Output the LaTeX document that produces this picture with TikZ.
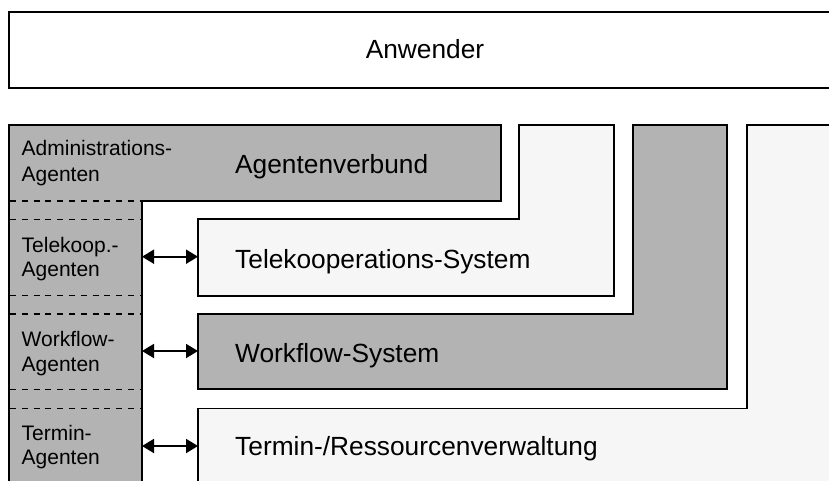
\documentclass[tikz,border=0pt]{standalone}
\usepackage{fontspec}
\setmainfont{Liberation Sans}
\usetikzlibrary{arrows.meta}
\definecolor{agentgray}{RGB}{179,179,179}
\definecolor{layerlight}{RGB}{246,246,246}
\tikzset{
  layer/.style={draw=black, line width=1.7pt, line join=miter},
  darklayer/.style={layer, fill=agentgray},
  lightlayer/.style={layer, fill=layerlight},
  sep/.style={draw=black, line width=1.5pt, dash pattern=on 6pt off 5.8pt},
  biglabel/.style={anchor=base west, inner sep=0pt, font=\fontsize{26.3}{31}\selectfont},
  smalllabel/.style={anchor=base west, inner sep=0pt, align=left, font=\fontsize{21}{25}\selectfont},
  link/.style={line width=1.9pt, {Triangle[length=12pt,width=14pt]}-{Triangle[length=12pt,width=14pt]}}
}
\begin{document}
\begin{tikzpicture}[x=1pt,y=-1pt]
\path[use as bounding box, clip] (0,0) rectangle (829,480);
\fill[white] (0,0) rectangle (829,480);

% user layer on top
\draw[layer, fill=white] (9,12) rectangle (845,87.7);
\node[anchor=base, inner sep=0pt, font=\fontsize{26.3}{31}\selectfont] (anwender) at (425,58.3) {Anwender};

% nested L-shaped layers, from outermost to innermost
\draw[lightlayer] (747,125) -- (845,125) -- (845,495) -- (198,495) -- (198,408.5) -- (747,408.5) -- cycle;
\draw[darklayer] (633.3,125) -- (727,125) -- (727,389.3) -- (198,389.3) -- (198,314) -- (633.3,314) -- cycle;
\draw[lightlayer] (519.3,125) -- (614.3,125) -- (614.3,295.7) -- (198,295.7) -- (198,219.3) -- (519.3,219.3) -- cycle;

% agent federation
\draw[darklayer] (9,125) -- (500.7,125) -- (500.7,201) -- (142,201) -- (142,495) -- (9,495) -- cycle;

% dashed separators in the agent column
\foreach \yy in {201,219.3,295.7,314,389.3,408.5}
  \draw[sep] (10,\yy) -- (141,\yy);

% layer labels
\node[biglabel] (verbund) at (235,173.3) {Agentenverbund};
\node[biglabel] (telesys) at (235,268) {Telekooperations-System};
\node[biglabel] (wfsys) at (235,362.5) {Workflow-System};
\node[biglabel] (termsys) at (235,455) {Termin-/Ressourcenverwaltung};

% agent labels
\node[smalllabel] (admin1) at (21.5,155) {Administrations-};
\node[smalllabel] (admin2) at (21.5,181) {Agenten};
\node[smalllabel] (tele1) at (21.5,252.7) {Telekoop.-};
\node[smalllabel] (tele2) at (21.5,276) {Agenten};
\node[smalllabel] (wf1) at (21.5,346) {Workflow-};
\node[smalllabel] (wf2) at (21.5,371) {Agenten};
\node[smalllabel] (term1) at (21.5,440) {Termin-};
\node[smalllabel] (term2) at (21.5,464.5) {Agenten};

% connections between agents and systems
\coordinate (teleA) at (142,256.7);
\coordinate (teleS) at (198,256.7);
\coordinate (wfA) at (142,351);
\coordinate (wfS) at (198,351);
\coordinate (termA) at (142,446);
\coordinate (termS) at (198,446);
\draw[link] (teleA) -- (teleS);
\draw[link] (wfA) -- (wfS);
\draw[link] (termA) -- (termS);
\end{tikzpicture}
\end{document}
